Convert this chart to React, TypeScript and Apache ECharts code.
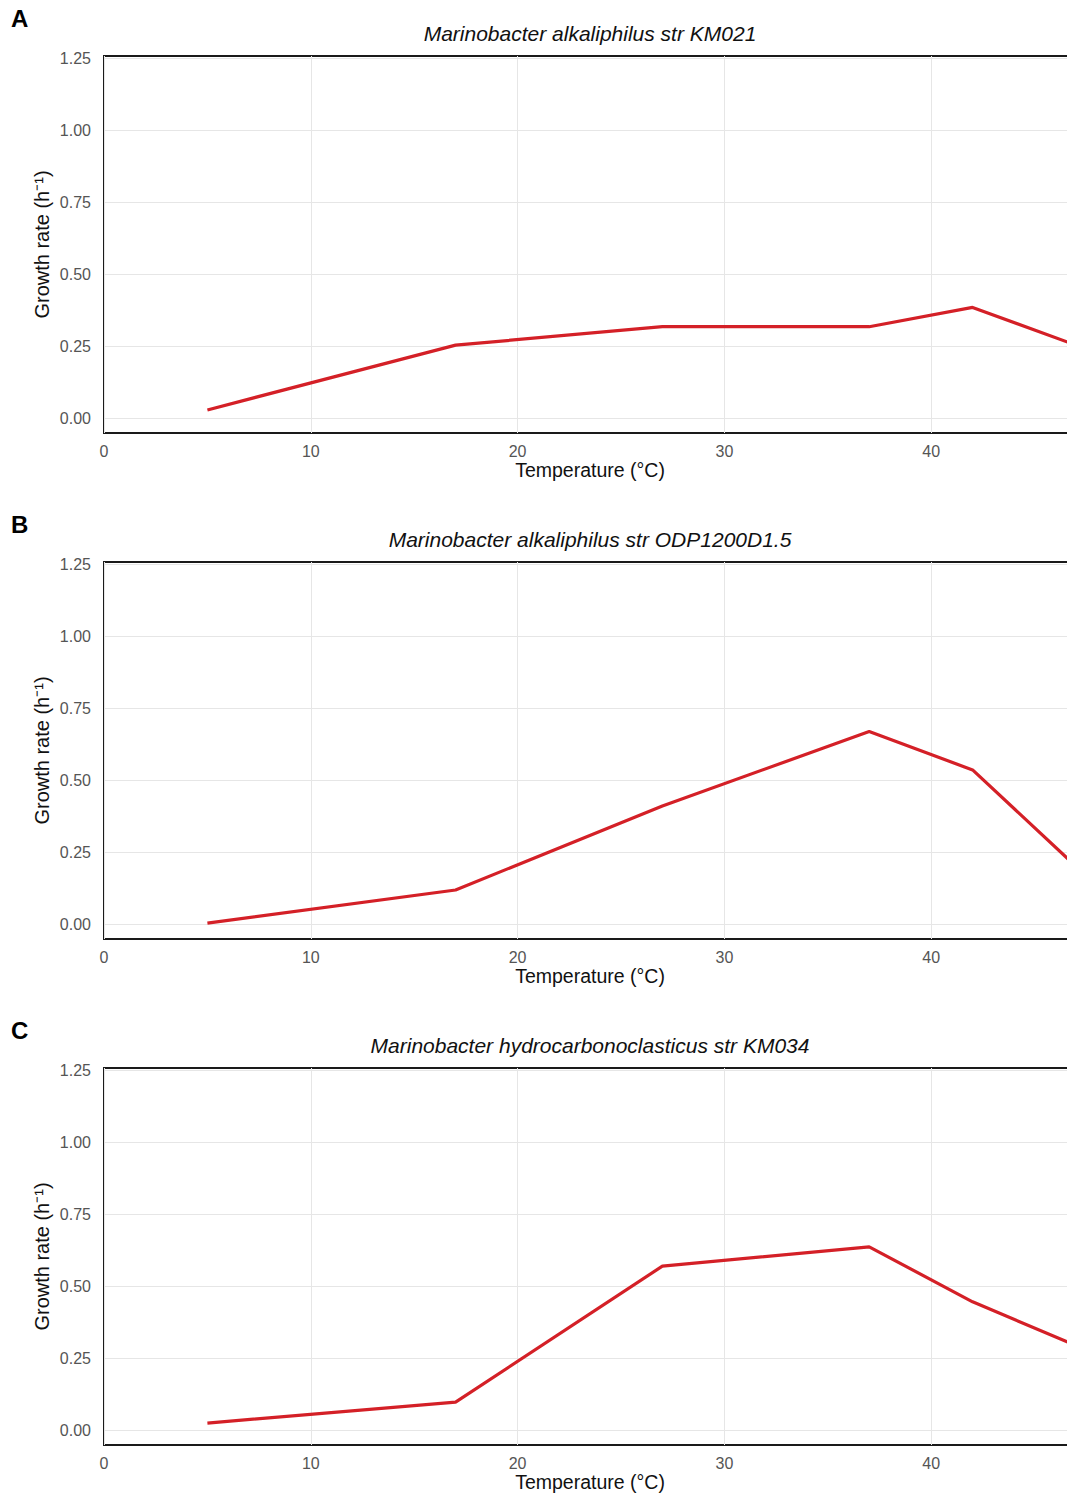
import React, { useEffect, useRef } from "react";
import * as echarts from "echarts";

const temperatures = [5, 17, 27, 37, 42, 47];
const growthA = [0.028, 0.253, 0.317, 0.317, 0.384, 0.253];
const growthB = [0.003, 0.118, 0.41, 0.668, 0.535, 0.2];
const growthC = [0.024, 0.097, 0.569, 0.636, 0.445, 0.293];
const panelLetters = ["A", "B", "C"];
const panelTitles = [
  "Marinobacter alkaliphilus str KM021",
  "Marinobacter alkaliphilus str ODP1200D1.5",
  "Marinobacter hydrocarbonoclasticus str KM034",
];
const seriesValues = [growthA, growthB, growthC];
const xTicks = [0, 10, 20, 30, 40];
const yTicks = [0, 0.25, 0.5, 0.75, 1.0, 1.25];

const FONT = "'Liberation Sans', Arial, sans-serif";

export default function App() {
  const ref = useRef<HTMLDivElement>(null);
  useEffect(() => {
    if (!ref.current) return;
    const chart = echarts.init(ref.current, undefined, { renderer: "svg" });
    const grids: any[] = [];
    const xAxes: any[] = [];
    const yAxes: any[] = [];
    const series: any[] = [];
    const graphics: any[] = [];
    const step = 506;
    const left = 104;
    const width = 972;
    const xMax = 47;
    panelTitles.forEach((title, p) => {
      const o = p * step;
      // outer grid: box + vertical grid + x labels
      grids.push({
        left,
        width,
        top: 56 + o,
        height: 377,
        show: true,
        borderColor: "#1a1a1a",
        borderWidth: 2,
        backgroundColor: "transparent",
      });
      // inner grid: data area
      grids.push({ left, width, top: 58 + o, height: 360, show: false });
      const gOuter = p * 2;
      const gInner = p * 2 + 1;
      xAxes.push({
        type: "value",
        gridIndex: gOuter,
        min: 0,
        max: xMax,
        interval: 10,
        axisLine: { show: false },
        axisTick: { show: false },
        splitLine: { show: true, lineStyle: { color: "#e6e6e6", width: 1 } },
        axisLabel: {
          margin: 10,
          color: "#555555",
          fontSize: 16,
          fontFamily: FONT,
          showMaxLabel: false,
          formatter: (v: number) => (xTicks.includes(v) ? String(v) : ""),
        },
        name: "Temperature (°C)",
        nameLocation: "middle",
        nameGap: 26,
        nameTextStyle: { color: "#111111", fontSize: 19.5, fontFamily: FONT },
      });
      xAxes.push({
        type: "value",
        gridIndex: gInner,
        min: 0,
        max: xMax,
        show: false,
      });
      yAxes.push({
        type: "value",
        gridIndex: gOuter,
        min: 0,
        max: 1,
        axisLine: { show: false },
        axisTick: { show: false },
        axisLabel: { show: false },
        splitLine: { show: false },
        name: "Growth rate (h⁻¹)",
        nameLocation: "middle",
        nameGap: 52,
        nameTextStyle: { color: "#111111", fontSize: 20, fontFamily: FONT },
      });
      yAxes.push({
        type: "value",
        gridIndex: gInner,
        min: 0,
        max: 1.25,
        interval: 0.25,
        axisLine: { show: false },
        axisTick: { show: false },
        splitLine: { show: true, lineStyle: { color: "#e6e6e6", width: 1 } },
        axisLabel: {
          margin: 13,
          color: "#555555",
          fontSize: 16,
          fontFamily: FONT,
          formatter: (v: number) =>
            yTicks.some((t) => Math.abs(t - v) < 1e-9) ? v.toFixed(2) : "",
        },
      });
      series.push({
        type: "line",
        xAxisIndex: gInner,
        yAxisIndex: gInner,
        data: temperatures.map((t, i) => [t, seriesValues[p][i]]),
        showSymbol: false,
        symbol: "none",
        lineStyle: { color: "#d42027", width: 3.2 },
        z: 5,
      });
      graphics.push({
        type: "text",
        x: 11,
        y: 18 + o,
        style: {
          text: panelLetters[p],
          font: `bold 24px ${FONT}`,
          fill: "#000000",
          verticalAlign: "middle",
          align: "left",
        },
      });
      graphics.push({
        type: "text",
        x: 590,
        y: 33 + o,
        style: {
          text: title,
          font: `italic 21px ${FONT}`,
          fill: "#111111",
          verticalAlign: "middle",
          align: "center",
        },
      });
    });
    chart.setOption({
      animation: false,
      backgroundColor: "#ffffff",
      grid: grids,
      xAxis: xAxes,
      yAxis: yAxes,
      series,
      graphic: graphics,
    });
    return () => chart.dispose();
  }, []);
  return (
    <div
      style={{
        position: "absolute",
        left: 0,
        top: 0,
        width: 1067,
        height: 1493,
        overflow: "hidden",
        background: "#fff",
      }}
    >
      <div ref={ref} style={{ width: 1110, height: 1493 }} />
    </div>
  );
}
